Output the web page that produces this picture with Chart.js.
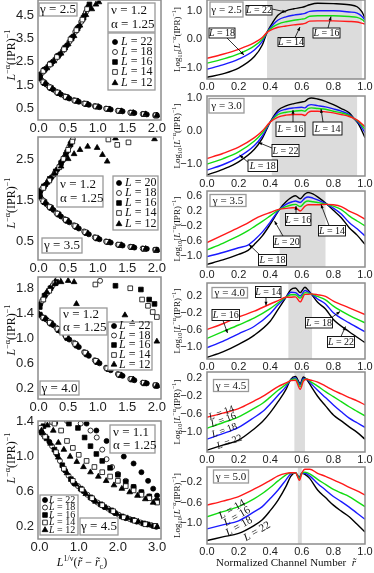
<!DOCTYPE html>
<html>
<head>
<meta charset="utf-8">
<script src="https://cdn.jsdelivr.net/npm/chart.js@4.4.1/dist/chart.umd.min.js"></script>
<style>
  html, body { margin: 0; padding: 0; background: #fff; overflow: hidden; width: 374px; height: 573px; }
  #fig { position: relative; width: 374px; height: 573px; }
  canvas { position: absolute; }
</style>
</head>
<body>
<div id="fig"></div>
<script>
// ---------- left column: scaled inverse IPR vs L^(1/nu)(r - rc), lower + upper branch ----------
const g25L22 = [[0.03,1.78],[0.13,1.52],[0.25,1.3],[0.38,1.09],[0.52,0.92],[0.68,0.78],[0.85,0.65],[1.03,0.55],[1.22,0.45],[1.42,0.37],[1.62,0.3],[1.83,0.24],[2.0,0.2],
  [0.03,1.95],[0.12,2.2],[0.24,2.5],[0.36,2.82],[0.48,3.2],[0.58,3.58],[0.68,4.0],[0.78,4.5],[0.84,4.85]];
const g25L18 = [[0.06,1.68],[0.17,1.44],[0.3,1.21],[0.44,1.02],[0.6,0.85],[0.77,0.71],[0.95,0.6],[1.14,0.49],[1.34,0.4],[1.55,0.32],[1.76,0.26],[1.97,0.2],
  [0.06,2.02],[0.16,2.3],[0.28,2.6],[0.41,2.97],[0.52,3.35],[0.62,3.78],[0.72,4.2],[0.8,4.62]];
const g25L16 = [[0.02,1.8],[0.1,1.58],[0.21,1.37],[0.34,1.15],[0.48,0.97],[0.64,0.82],[0.81,0.68],[0.99,0.57],[1.18,0.47],[1.38,0.38],[1.58,0.31],[1.79,0.25],[1.99,0.19],
  [0.02,1.92],[0.1,2.15],[0.21,2.42],[0.33,2.75],[0.45,3.1],[0.56,3.5],[0.66,3.92],[0.76,4.38],[0.86,4.95]];
const g25L14 = [[0.08,1.62],[0.19,1.4],[0.32,1.18],[0.46,0.99],[0.62,0.83],[0.79,0.7],[0.97,0.58],[1.16,0.48],[1.36,0.39],[1.57,0.31],[1.78,0.25],[1.98,0.2],
  [0.08,2.1],[0.19,2.38],[0.31,2.7],[0.43,3.03],[0.54,3.45],[0.64,3.85],[0.74,4.3],[0.82,4.75]];
const g25L12 = [[0.0,1.88],[0.11,1.56],[0.23,1.33],[0.36,1.12],[0.5,0.94],[0.66,0.8],[0.83,0.67],[1.01,0.56],[1.2,0.46],[1.4,0.38],[1.6,0.31],[1.81,0.25],[2.0,0.2],
  [0.0,1.9],[0.14,2.22],[0.26,2.52],[0.38,2.85],[0.5,3.25],[0.6,3.6],[0.7,4.05],[0.8,4.5],[0.9,4.75],[0.97,4.95],[1.02,5.05]];

const g35L20 = [[0.03,1.58],[0.13,1.41],[0.25,1.27],[0.38,1.11],[0.52,0.97],[0.68,0.82],[0.85,0.68],[1.03,0.56],[1.22,0.48],[1.42,0.41],[1.62,0.36],[1.83,0.33],[2.0,0.3],
  [0.03,1.72],[0.12,1.88],[0.22,2.06],[0.32,2.25],[0.4,2.45],[0.48,2.68],[0.55,2.9]];
const g35L18 = [[0.06,1.52],[0.17,1.36],[0.3,1.2],[0.44,1.05],[0.6,0.9],[0.77,0.75],[0.95,0.61],[1.14,0.51],[1.34,0.43],[1.55,0.38],[1.76,0.34],[1.97,0.31],
  [0.06,1.78],[0.16,1.95],[0.26,2.12],[0.36,2.33],[0.44,2.55],[0.52,2.8],[0.58,2.98]];
const g35L16 = [[0.02,1.6],[0.1,1.46],[0.21,1.32],[0.34,1.16],[0.48,1.01],[0.64,0.86],[0.81,0.71],[0.99,0.58],[1.18,0.49],[1.38,0.42],[1.58,0.37],[1.79,0.33],[1.99,0.3],
  [0.02,1.7],[0.09,1.84],[0.19,2.02],[0.29,2.2],[0.38,2.4],[0.46,2.6],[0.54,2.85]];
const g35L14 = [[0.08,1.48],[0.19,1.34],[0.32,1.18],[0.46,1.03],[0.62,0.88],[0.79,0.73],[0.97,0.6],[1.16,0.5],[1.36,0.43],[1.57,0.37],[1.78,0.33],[1.98,0.3],
  [0.08,1.8],[0.18,1.98],[0.28,2.15],[0.35,2.3],[0.42,2.5],[0.5,2.72],[0.57,2.92],[1.18,2.97],[1.33,2.84],[1.52,2.9]];
const g35L12 = [[0.0,1.62],[0.11,1.44],[0.23,1.3],[0.36,1.14],[0.5,0.99],[0.66,0.84],[0.83,0.7],[1.01,0.57],[1.2,0.49],[1.4,0.42],[1.6,0.36],[1.81,0.33],[2.0,0.3],
  [0.0,1.72],[0.14,1.93],[0.27,2.15],[0.38,2.32],[0.5,2.5],[0.6,2.62],[0.7,2.72],[0.83,2.8],[0.99,2.77],[1.08,2.6],[1.16,2.44],[1.3,3.0],[1.96,2.98]];

const g40L22 = [[0.03,1.37],[0.13,1.3],[0.25,1.21],[0.38,1.1],[0.52,0.98],[0.68,0.86],[0.85,0.72],[1.03,0.6],[1.22,0.49],[1.42,0.4],[1.62,0.33],[1.83,0.28],[2.0,0.24],
  [0.03,1.55],[0.12,1.7],[0.22,1.82],[0.31,1.93]];
const g40L18 = [[0.06,1.34],[0.17,1.27],[0.3,1.17],[0.44,1.06],[0.6,0.93],[0.77,0.78],[0.95,0.65],[1.14,0.53],[1.34,0.43],[1.55,0.35],[1.76,0.29],[1.97,0.25],
  [0.06,1.6],[0.15,1.73],[0.24,1.85],[0.33,1.95],[1.04,1.92]];
const g40L16 = [[0.02,1.38],[0.1,1.32],[0.21,1.24],[0.34,1.13],[0.48,1.01],[0.64,0.89],[0.81,0.75],[0.99,0.62],[1.18,0.51],[1.38,0.41],[1.58,0.34],[1.79,0.28],[1.99,0.24],
  [0.02,1.5],[0.1,1.68],[0.2,1.8],[0.3,1.9],[1.3,1.84],[1.73,1.78],[1.87,1.62],[1.96,1.55]];
const g40L14 = [[0.08,1.33],[0.19,1.25],[0.32,1.15],[0.46,1.04],[0.62,0.91],[0.79,0.77],[0.97,0.64],[1.16,0.52],[1.36,0.42],[1.57,0.35],[1.78,0.29],[1.98,0.25],
  [0.08,1.62],[0.18,1.76],[0.27,1.88],[0.96,1.86],[1.55,1.8],[1.75,1.62],[1.85,1.52],[1.93,1.42],[2.0,1.34]];
const g40L12 = [[0.0,1.4],[0.11,1.31],[0.23,1.22],[0.36,1.12],[0.5,0.99],[0.66,0.87],[0.83,0.73],[1.01,0.61],[1.2,0.5],[1.4,0.41],[1.6,0.34],[1.81,0.28],[2.0,0.24],
  [0.0,1.5],[0.14,1.74],[0.28,1.87],[0.38,1.9],[0.5,1.92],[0.6,1.9],[0.64,1.55],[1.46,1.37],[1.59,1.24],[1.73,1.1],[1.87,1.0],[2.0,0.95]];

const g45L22 = [[0.05,1.28],[0.25,1.17],[0.45,1.02],[0.65,0.84],[0.88,0.69],[1.12,0.6],[1.38,0.5],[1.65,0.42],[1.92,0.35],[2.2,0.29],[2.48,0.25],[2.75,0.22],[2.98,0.19],
  [1.2,1.38],[1.45,1.3],[1.71,1.18],[1.95,1.08],[2.15,1.0],[2.4,0.92],[2.6,0.82],[2.77,0.72],[2.9,0.63],[3.0,0.55]];
const g45L18 = [[0.1,1.25],[0.32,1.12],[0.52,0.95],[0.74,0.78],[0.98,0.66],[1.22,0.56],[1.48,0.47],[1.75,0.4],[2.02,0.33],[2.3,0.28],[2.58,0.24],[2.85,0.21],
  [0.3,1.4],[0.7,1.41],[1.05,1.38],[1.3,1.3],[1.46,1.22],[1.6,1.08],[1.71,0.97],[1.85,0.88],[2.0,0.8],[2.2,0.72],[2.4,0.65],[2.6,0.59],[2.8,0.54],[2.98,0.49]];
const g45L16 = [[0.02,1.3],[0.18,1.21],[0.38,1.08],[0.58,0.9],[0.8,0.74],[1.05,0.63],[1.3,0.53],[1.56,0.45],[1.83,0.38],[2.1,0.31],[2.38,0.27],[2.65,0.23],[2.92,0.2],
  [0.1,1.35],[0.4,1.4],[0.75,1.38],[0.98,1.33],[1.15,1.22],[1.3,1.12],[1.45,1.03],[1.6,0.95],[1.8,0.87],[2.0,0.79],[2.2,0.71],[2.4,0.65],[2.6,0.59],[2.8,0.54],[3.0,0.49]];
const g45L14 = [[0.14,1.23],[0.42,1.05],[0.62,0.86],[0.85,0.72],[1.08,0.62],[1.34,0.52],[1.6,0.44],[1.88,0.37],[2.15,0.3],[2.43,0.26],[2.7,0.22],[2.96,0.2],
  [0.03,1.33],[0.2,1.39],[0.38,1.38],[0.55,1.3],[0.7,1.18],[0.85,1.1],[1.0,1.02],[1.2,0.95],[1.4,0.88],[1.6,0.82],[1.8,0.77],[2.0,0.72],[2.2,0.66],[2.4,0.61],[2.6,0.56],[2.8,0.52],[3.0,0.47]];
const g45L12 = [[0.07,1.27],[0.28,1.15],[0.48,0.99],[0.7,0.81],[0.93,0.68],[1.18,0.57],[1.43,0.48],[1.7,0.41],[1.97,0.34],[2.25,0.29],[2.52,0.25],[2.8,0.21],[3.0,0.19],
  [0.05,1.3],[0.2,1.36],[0.35,1.3],[0.48,1.16],[0.62,1.08],[0.78,1.0],[0.95,0.94],[1.12,0.88],[1.3,0.82],[1.5,0.77],[1.7,0.72],[1.9,0.67],[2.1,0.63],[2.3,0.59],[2.5,0.55],[2.7,0.51],[2.9,0.47]];

// ---------- right column: log10 of scaled inverse IPR vs normalized channel ----------
const r25X   = [0,0.1,0.2,0.3,0.35,0.38,0.42,0.45,0.5,0.55,0.6,0.62,0.65,0.7,0.8,0.9,0.95,0.98,1.0];
const r25L14 = [-0.66,-0.52,-0.35,-0.12,0.06,0.24,0.36,0.42,0.46,0.5,0.53,0.55,0.63,0.64,0.64,0.62,0.6,0.56,0.53];
const r25L16 = [-0.83,-0.69,-0.51,-0.23,0.0,0.24,0.44,0.53,0.61,0.66,0.7,0.72,0.8,0.82,0.82,0.79,0.76,0.69,0.6];
const r25L18 = [-1.04,-0.89,-0.69,-0.37,-0.07,0.24,0.52,0.67,0.78,0.84,0.88,0.9,0.97,0.99,0.99,0.95,0.91,0.8,0.67];
const r25L22 = [-1.32,-1.2,-1.0,-0.6,-0.2,0.24,0.62,0.84,0.99,1.06,1.11,1.14,1.2,1.25,1.24,1.2,1.13,0.96,0.73];

const r30X   = [0,0.1,0.2,0.3,0.35,0.4,0.45,0.5,0.55,0.6,0.62,0.64,0.66,0.7,0.75,0.8,0.85,0.9,0.93,0.96,1.0];
const r30L14 = [-0.83,-0.68,-0.49,-0.2,0.0,0.27,0.42,0.48,0.5,0.5,0.47,0.56,0.6,0.6,0.58,0.55,0.5,0.44,0.38,0.3,0.13];
const r30L16 = [-1.0,-0.84,-0.63,-0.3,-0.06,0.27,0.5,0.57,0.6,0.62,0.6,0.68,0.7,0.68,0.66,0.6,0.55,0.47,0.38,0.28,0.05];
const r30L18 = [-1.18,-1.02,-0.79,-0.44,-0.15,0.27,0.57,0.66,0.7,0.72,0.7,0.78,0.8,0.77,0.73,0.67,0.6,0.5,0.38,0.25,-0.05];
const r30L22 = [-1.33,-1.16,-0.93,-0.55,-0.22,0.27,0.63,0.76,0.83,0.88,0.9,0.97,1.0,0.97,0.9,0.8,0.68,0.55,0.38,0.2,-0.2];

const r35X   = [0,0.1,0.2,0.26,0.3,0.35,0.4,0.46,0.5,0.54,0.56,0.59,0.62,0.64,0.67,0.7,0.76,0.8,0.85,0.9,0.95,1.0];
const r35L14 = [-0.65,-0.45,-0.25,-0.12,-0.02,0.08,0.16,0.25,0.27,0.29,0.29,0.2,0.33,0.37,0.37,0.37,0.38,0.37,0.32,0.2,0.1,-0.02];
const r35L16 = [-0.85,-0.67,-0.47,-0.33,-0.22,-0.08,0.07,0.25,0.32,0.37,0.38,0.32,0.44,0.47,0.45,0.43,0.38,0.33,0.24,0.07,-0.07,-0.2];
const r35L18 = [-1.03,-0.92,-0.79,-0.72,-0.58,-0.37,-0.1,0.25,0.38,0.45,0.47,0.43,0.55,0.58,0.55,0.5,0.38,0.28,0.12,-0.11,-0.28,-0.47];
const r35L20 = [-1.24,-1.12,-0.97,-0.86,-0.7,-0.47,-0.16,0.25,0.45,0.58,0.61,0.53,0.66,0.7,0.66,0.58,0.38,0.22,0.02,-0.25,-0.45,-0.7];

const r40X   = [0,0.1,0.2,0.3,0.4,0.45,0.5,0.53,0.56,0.59,0.62,0.64,0.66,0.7,0.75,0.8,0.9,1.0];
const r40L14 = [-0.59,-0.45,-0.29,-0.15,0.02,0.1,0.18,0.18,0.19,0.07,0.25,0.25,0.26,0.24,0.2,0.09,-0.07,-0.23];
const r40L16 = [-0.8,-0.64,-0.48,-0.31,-0.09,0.05,0.18,0.24,0.24,0.16,0.29,0.28,0.26,0.2,0.12,-0.03,-0.25,-0.43];
const r40L18 = [-1.02,-0.87,-0.69,-0.51,-0.21,0.0,0.18,0.3,0.29,0.21,0.34,0.31,0.26,0.14,0.02,-0.19,-0.43,-0.64];
const r40L22 = [-1.25,-1.12,-0.94,-0.72,-0.39,-0.11,0.18,0.36,0.4,0.29,0.42,0.35,0.26,0.06,-0.1,-0.35,-0.64,-0.9];

const r45X   = [0,0.1,0.2,0.3,0.35,0.4,0.45,0.5,0.53,0.56,0.59,0.61,0.63,0.66,0.7,0.75,0.8,0.85,0.9,0.95,1.0];
const r45L14 = [-0.67,-0.58,-0.48,-0.31,-0.22,-0.11,0.0,0.08,0.13,0.14,-0.06,0.12,0.16,0.14,0.1,0.01,-0.08,-0.16,-0.24,-0.31,-0.4];
const r45L16 = [-0.91,-0.79,-0.66,-0.47,-0.37,-0.23,-0.08,0.05,0.14,0.17,0.0,0.15,0.17,0.1,0.01,-0.11,-0.22,-0.33,-0.44,-0.54,-0.64];
const r45L18 = [-1.15,-1.03,-0.89,-0.67,-0.55,-0.38,-0.19,0.0,0.15,0.19,0.04,0.18,0.17,0.06,-0.08,-0.24,-0.4,-0.55,-0.69,-0.79,-0.89];
const r45L22 = [-1.39,-1.28,-1.17,-0.92,-0.77,-0.57,-0.33,-0.06,0.16,0.22,0.07,0.21,0.16,0.0,-0.21,-0.42,-0.62,-0.75,-0.88,-1.0,-1.15];

const r50X   = [0,0.1,0.2,0.3,0.35,0.4,0.45,0.5,0.53,0.56,0.585,0.6,0.62,0.65,0.7,0.75,0.8,0.85,0.9,0.95,1.0];
const r50L14 = [-0.65,-0.57,-0.48,-0.33,-0.25,-0.16,-0.07,-0.02,-0.01,-0.01,-0.16,-0.02,0.06,0.06,-0.02,-0.08,-0.15,-0.22,-0.3,-0.37,-0.45];
const r50L16 = [-0.88,-0.78,-0.68,-0.52,-0.42,-0.3,-0.17,-0.05,-0.01,-0.01,-0.13,-0.02,0.0,-0.03,-0.14,-0.24,-0.34,-0.41,-0.48,-0.58,-0.68];
const r50L18 = [-1.12,-1.04,-0.96,-0.78,-0.68,-0.52,-0.35,-0.15,-0.03,-0.01,-0.12,-0.02,-0.02,-0.07,-0.22,-0.35,-0.48,-0.58,-0.69,-0.81,-0.93];
const r50L22 = [-1.35,-1.28,-1.21,-1.05,-0.94,-0.76,-0.55,-0.28,-0.08,-0.01,-0.1,-0.02,-0.04,-0.12,-0.35,-0.5,-0.65,-0.77,-0.88,-1.03,-1.18];

// grey bands (critical region) per right panel, gamma = 2.5 .. 5.0
const shadeLo = [0.38, 0.41, 0.46, 0.515, 0.553, 0.575];
const shadeHi = [0.98, 0.95, 0.75, 0.665, 0.62, 0.6];

const LINE_COLORS = ["#ff1a1a", "#12dc12", "#1a1aff", "#000000"];
const SANS = '"Liberation Sans", Arial, sans-serif';
const SERIF = '"Liberation Serif", "Times New Roman", serif';

const MARKS = {
  22: { style: "circle", fill: "#000", r: 2.5 },
  20: { style: "circle", fill: "#000", r: 2.5 },
  18: { style: "circle", fill: "#fff", r: 2.5 },
  16: { style: "rect", fill: "#000", r: 3.3 },
  14: { style: "rect", fill: "#fff", r: 3.3 },
  12: { style: "triangle", fill: "#000", r: 3.3 },
};

function fmt(v) {
  return Number(v).toFixed(1).replace("-", "\u2212");
}
function pts(arr) {
  return arr.map(([x, y]) => ({ x, y }));
}
function pairs(xs, ys) {
  return xs.map((x, i) => ({ x, y: ys[i] }));
}

// ---------- panel layout (page pixels) ----------
const leftPanels = [
  {
    plot: [38, 0, 161, 120], xr: [-0.01, 2.07], yr: [0, 5.14],
    xt: [0, 0.5, 1, 1.5, 2], yt: [0.5, 1.5, 2.5, 3.5, 4.5], xh: 16,
    series: [[12, g25L12], [14, g25L14], [16, g25L16], [18, g25L18], [22, g25L22]],
    gamma: { box: [39, 3, 77, 16], text: "\u03b3 = 2.5" },
    nu: { box: [108, 3, 155, 32], x: 111, ys: [10.5, 24.5], lines: ["\u03bd = 1.2", "\u03b1 = 1.25"] },
    legend: { box: [108, 33, 155, 90], mx: 115, tx: 121, ys: [42, 52, 62, 72, 83], size: 12, Ls: [22, 18, 16, 14, 12] },
    ytitle: 55,
  },
  {
    plot: [38, 137, 161, 260], xr: [-0.01, 2.07], yr: [0.06, 3.03],
    xt: [0, 0.5, 1, 1.5, 2], yt: [0.5, 1.5, 2.5], xh: 16,
    series: [[12, g35L12], [14, g35L14], [16, g35L16], [18, g35L18], [20, g35L20]],
    gamma: { box: [42, 238, 82, 253], text: "\u03b3 = 3.5" },
    nu: { box: [57, 176, 103, 207], x: 60, ys: [184.5, 199], lines: ["\u03bd = 1.2", "\u03b1 = 1.25"] },
    legend: { box: [113, 176, 158, 230], mx: 119, tx: 125, ys: [183, 193, 203, 213, 224], size: 12, Ls: [20, 18, 16, 14, 12] },
    ytitle: 203,
  },
  {
    plot: [38, 277, 161, 399], xr: [-0.01, 2.07], yr: [0.03, 1.98],
    xt: [0, 0.5, 1, 1.5, 2], yt: [0.2, 0.6, 1.0, 1.4, 1.8], xh: 16,
    series: [[12, g40L12], [14, g40L14], [16, g40L16], [18, g40L18], [22, g40L22]],
    gamma: { box: [40, 381, 79, 395], text: "\u03b3 = 4.0" },
    nu: { box: [60, 308, 107, 335], x: 63, ys: [315, 328], lines: ["\u03bd = 1.2", "\u03b1 = 1.25"] },
    legend: { box: [108, 322, 152, 370], mx: 114, tx: 119, ys: [326, 335.5, 345, 355, 364.5], size: 12, Ls: [22, 18, 16, 14, 12] },
    ytitle: 330,
  },
  {
    plot: [38, 421, 161, 539], xr: [-0.04, 3.1], yr: [0.05, 1.41],
    xt: [0, 1, 2, 3], yt: [0.2, 0.6, 1.0, 1.4], xh: 34,
    series: [[12, g45L12], [14, g45L14], [16, g45L16], [18, g45L18], [22, g45L22]],
    gamma: { box: [80, 518, 118, 535], text: "\u03b3 = 4.5" },
    nu: { box: [110, 425, 155, 453], x: 113, ys: [433, 446], lines: ["\u03bd = 1.1", "\u03b1 = 1.25"] },
    legend: { box: [40, 495, 78, 535], mx: 45, tx: 49, ys: [500, 507.5, 515, 522.5, 530], size: 10, Ls: [22, 18, 16, 14, 12] },
    ytitle: 458,
    xtitle: [82, 563],
  },
];

const rightPanels = [
  {
    plot: [207, 0, 365, 79], yr: [-1.38, 1.365], yt: [-1, 0, 1], xh: 16,
    x: r25X, lines: [r25L14, r25L16, r25L18, r25L22], shade: 0,
    gamma: { box: [210, 2, 243, 17], text: "\u03b3 = 2.5" },
    tags: [
      { t: "22", box: [246, 5.5, 272, 15], from: [272, 9], to: [286, 12] },
      { t: "18", box: [209, 28, 235, 38], from: [227, 38], to: [244, 55] },
      { t: "14", box: [278, 37.5, 304, 46.5], from: [295, 37.5], to: [300, 27] },
      { t: "16", box: [313, 28, 340, 38], from: [328, 28], to: [331, 16.5] },
    ],
  },
  {
    plot: [207, 96, 365, 176], yr: [-1.36, 1.06], yt: [-1, 0, 1], xh: 16,
    x: r30X, lines: [r30L14, r30L16, r30L18, r30L22], shade: 1,
    gamma: { box: [209, 98.5, 244, 113], text: "\u03b3 = 3.0" },
    tags: [
      { t: "16", box: [276, 122, 305, 136.5], from: [293, 122], to: [293, 110] },
      { t: "14", box: [313, 122, 342, 135], from: [323, 122], to: [321, 109] },
      { t: "22", box: [272, 144.5, 299, 156.5], from: [272, 148], to: [258.5, 142.5] },
      { t: "18", box: [248, 160, 277.5, 171.5], from: [249, 163], to: [239.5, 155] },
    ],
  },
  {
    plot: [207, 191, 365, 267], yr: [-1.31, 0.74], yt: [-1, -0.6, -0.2, 0.2, 0.6], xh: 16,
    x: r35X, lines: [r35L14, r35L16, r35L18, r35L20], shade: 2,
    gamma: { box: [210, 194.5, 246, 206.5], text: "\u03b3 = 3.5" },
    tags: [
      { t: "16", box: [285.5, 213.5, 311, 225.5], from: [296, 213.5], to: [296, 206] },
      { t: "14", box: [318.5, 225.5, 345.5, 236], from: [329, 225.5], to: [321, 204.5] },
      { t: "20", box: [273.5, 236, 300, 247.5], from: [283, 236], to: [274.5, 221] },
      { t: "18", box: [258.5, 254.5, 286.5, 265.5], from: [261, 256], to: [249, 244.5] },
    ],
  },
  {
    plot: [207, 283, 365, 359], yr: [-1.29, 0.52], yt: [-1, -0.6, -0.2, 0.2], xh: 16,
    x: r40X, lines: [r40L14, r40L16, r40L18, r40L22], shade: 3,
    gamma: { box: [212, 287.5, 247.5, 298], text: "\u03b3 = 4.0" },
    tags: [
      { t: "14", box: [255.5, 286.5, 281, 297.5], from: [266, 297.5], to: [266, 305.5] },
      { t: "16", box: [212, 309.5, 239.5, 320.5], from: [223, 320.5], to: [227.5, 333] },
      { t: "18", box: [305.5, 317.5, 332.5, 328], from: [329, 319.5], to: [340, 311.5] },
      { t: "22", box: [327.5, 336.5, 354.5, 347.5], from: [341, 336.5], to: [345.5, 326.5] },
    ],
  },
  {
    plot: [207, 372, 365, 452], yr: [-1.43, 0.32], yt: [-1, -0.6, -0.2, 0.2], xh: 16,
    x: r45X, lines: [r45L14, r45L16, r45L18, r45L22], shade: 4,
    gamma: { box: [213.5, 379.5, 248.5, 391.5], text: "\u03b3 = 4.5" },
    rlabels: [
      { t: "14", at: [221.5, 413], a: -20, size: 10 },
      { t: "16", at: [223.5, 420], a: -20, size: 10 },
      { t: "18", at: [224.5, 430.5], a: -20, size: 10 },
      { t: "22", at: [229.5, 442], a: -20, size: 10 },
    ],
  },
  {
    plot: [207, 467, 365, 544], yr: [-1.42, 0.105], yt: [-1, -0.6, -0.2], xh: 29,
    x: r50X, lines: [r50L14, r50L16, r50L18, r50L22], shade: 5,
    gamma: { box: [213.5, 470, 248.5, 483], text: "\u03b3 = 5.0" },
    rlabels: [
      { t: "14", at: [232, 509.5], a: -30, size: 11 },
      { t: "16", at: [237, 516.5], a: -30, size: 11 },
      { t: "18", at: [239, 526.5], a: -30, size: 11 },
      { t: "22", at: [257, 531.5], a: -30, size: 11 },
    ],
    xtitle: [286, 563],
  },
];

// ---------- small drawing helpers (page coordinates) ----------
function drawRich(ctx, parts, x, y, size, rot, align) {
  ctx.save();
  ctx.translate(x, y);
  ctx.rotate(rot || 0);
  let w = 0;
  const items = parts.map((p) => {
    const s = p.sup || p.sub ? size * 0.68 : size;
    const f = `${p.it ? "italic " : ""}${s}px ${SERIF}`;
    ctx.font = f;
    const pw = ctx.measureText(p.t).width;
    w += pw;
    return { p, f, pw };
  });
  let cx = align === "left" ? 0 : -w / 2;
  ctx.textAlign = "left";
  ctx.textBaseline = "middle";
  ctx.fillStyle = "#111";
  items.forEach((it) => {
    ctx.font = it.f;
    const dy = it.p.sup ? -size * 0.38 : it.p.sub ? size * 0.28 : 0;
    ctx.fillText(it.p.t, cx, dy);
    cx += it.pw;
  });
  ctx.restore();
}

function drawBox(ctx, b, color, lw) {
  ctx.fillStyle = "#fff";
  ctx.fillRect(b[0], b[1], b[2] - b[0], b[3] - b[1]);
  ctx.strokeStyle = color;
  ctx.lineWidth = lw;
  ctx.strokeRect(b[0], b[1], b[2] - b[0], b[3] - b[1]);
}

function drawArrow(ctx, from, to) {
  const ang = Math.atan2(to[1] - from[1], to[0] - from[0]);
  ctx.strokeStyle = "#000";
  ctx.fillStyle = "#000";
  ctx.lineWidth = 0.8;
  ctx.beginPath();
  ctx.moveTo(from[0], from[1]);
  ctx.lineTo(to[0], to[1]);
  ctx.stroke();
  ctx.beginPath();
  ctx.moveTo(to[0], to[1]);
  ctx.lineTo(to[0] - 4 * Math.cos(ang - 0.4), to[1] - 4 * Math.sin(ang - 0.4));
  ctx.lineTo(to[0] - 4 * Math.cos(ang + 0.4), to[1] - 4 * Math.sin(ang + 0.4));
  ctx.closePath();
  ctx.fill();
}

function drawMark(ctx, m, x, y) {
  ctx.fillStyle = m.fill;
  ctx.strokeStyle = "#000";
  ctx.lineWidth = 0.8;
  ctx.beginPath();
  if (m.style === "circle") {
    ctx.arc(x, y, m.r, 0, Math.PI * 2);
  } else if (m.style === "rect") {
    const s = m.r * Math.SQRT1_2;
    ctx.rect(x - s, y - s, 2 * s, 2 * s);
  } else {
    ctx.moveTo(x, y - m.r);
    ctx.lineTo(x + m.r * 0.866, y + m.r * 0.5);
    ctx.lineTo(x - m.r * 0.866, y + m.r * 0.5);
    ctx.closePath();
  }
  ctx.fill();
  ctx.stroke();
}

const LEFT_YTITLE = [{ t: "L", it: true }, { t: "\u2212\u03b1", sup: true }, { t: "(IPR)" }, { t: "\u22121", sup: true }];
const RIGHT_YTITLE = [{ t: "Log" }, { t: "10", sub: true }, { t: "[" }, { t: "L", it: true }, { t: "\u2212\u03b1", sup: true }, { t: "(IPR)" }, { t: "\u22121", sup: true }, { t: "]" }];
const LEFT_XTITLE = [{ t: "L", it: true }, { t: "1/\u03bd", sup: true }, { t: "(" }, { t: "r\u0303", it: true }, { t: " \u2212 " }, { t: "r\u0303", it: true }, { t: "c", sub: true }, { t: ")" }];
const RIGHT_XTITLE = [{ t: "Normalized Channel Number  " }, { t: "r\u0303", it: true }];

function decor(p, side) {
  return {
    id: "decor",
    beforeDatasetsDraw(chart) {
      if (p.shade === undefined) return;
      const { ctx, chartArea: a, scales } = chart;
      const x0 = scales.x.getPixelForValue(shadeLo[p.shade]);
      const x1 = scales.x.getPixelForValue(shadeHi[p.shade]);
      ctx.save();
      ctx.fillStyle = "#dcdcdc";
      ctx.fillRect(x0, a.top, x1 - x0, a.bottom - a.top);
      ctx.restore();
    },
    afterDatasetsDraw(chart) {
      const { ctx, chartArea: a } = chart;
      ctx.save();
      ctx.strokeStyle = "#8c8c8c";
      ctx.lineWidth = 1.5;
      ctx.strokeRect(a.left, a.top, a.right - a.left, a.bottom - a.top);
      ctx.translate(-p.off[0], -p.off[1]);

      const mid = (p.plot[1] + p.plot[3]) / 2;
      if (side === "left") {
        drawBox(ctx, p.gamma.box, "#999", 1.3);
        drawRich(ctx, [{ t: p.gamma.text }], (p.gamma.box[0] + p.gamma.box[2]) / 2, (p.gamma.box[1] + p.gamma.box[3]) / 2 + 0.5, 13);
        drawBox(ctx, p.nu.box, "#999", 1.3);
        p.nu.lines.forEach((s, i) => drawRich(ctx, [{ t: s }], p.nu.x, p.nu.ys[i], 13, 0, "left"));
        const lg = p.legend;
        drawBox(ctx, lg.box, "#999", 1.3);
        lg.Ls.forEach((L, i) => {
          drawMark(ctx, MARKS[L], lg.mx, lg.ys[i]);
          drawRich(ctx, [{ t: "L", it: true }, { t: " = " + L }], lg.tx, lg.ys[i], lg.size, 0, "left");
        });
        drawRich(ctx, LEFT_YTITLE, 12, p.ytitle, 12, -Math.PI / 2);
        if (p.xtitle) drawRich(ctx, LEFT_XTITLE, p.xtitle[0], p.xtitle[1], 12);
      } else {
        drawBox(ctx, p.gamma.box, "#999", 1.3);
        drawRich(ctx, [{ t: p.gamma.text }], (p.gamma.box[0] + p.gamma.box[2]) / 2, (p.gamma.box[1] + p.gamma.box[3]) / 2 + 0.5, 11);
        (p.tags || []).forEach((tg) => {
          drawArrow(ctx, tg.from, tg.to);
          drawBox(ctx, tg.box, "#000", 0.9);
          drawRich(ctx, [{ t: "L", it: true }, { t: " = " + tg.t }], (tg.box[0] + tg.box[2]) / 2, (tg.box[1] + tg.box[3]) / 2 + 0.5, 10);
        });
        (p.rlabels || []).forEach((rl) => {
          drawRich(ctx, [{ t: "L", it: true }, { t: " = " + rl.t }], rl.at[0], rl.at[1], rl.size, (rl.a * Math.PI) / 180);
        });
        drawRich(ctx, RIGHT_YTITLE, 178, mid, 9, -Math.PI / 2);
        if (p.xtitle) drawRich(ctx, RIGHT_XTITLE, p.xtitle[0], p.xtitle[1], 11);
      }
      ctx.restore();
    },
  };
}

function axis(which, range, ticks, fs, size, pad) {
  return {
    type: "linear",
    position: which === "x" ? "bottom" : "left",
    min: range[0],
    max: range[1],
    afterBuildTicks: (s) => {
      s.ticks = ticks.map((v) => ({ value: v }));
    },
    afterFit: (s) => {
      if (which === "x") s.height = size;
      else s.width = size;
    },
    grid: { display: false, drawTicks: false },
    border: { display: false },
    ticks: {
      autoSkip: false,
      maxRotation: 0,
      minRotation: 0,
      padding: pad,
      color: "#222",
      font: { family: SANS, size: fs },
      callback: (v) => fmt(v),
    },
  };
}

function buildPanel(p, side, datasets) {
  const yw = side === "left" ? 38 : 35;
  const pt = 14;
  const pr = 14;
  const [l, t, r, b] = p.plot;
  const w = r - l + yw + pr;
  const h = b - t + pt + p.xh;
  p.off = [l - yw, t - pt];

  const cv = document.createElement("canvas");
  cv.width = w;
  cv.height = h;
  cv.style.left = p.off[0] + "px";
  cv.style.top = p.off[1] + "px";
  cv.style.width = w + "px";
  cv.style.height = h + "px";
  document.getElementById("fig").appendChild(cv);

  const fs = side === "left" ? 13 : 11;
  new Chart(cv.getContext("2d"), {
    type: "scatter",
    data: { datasets },
    options: {
      responsive: false,
      animation: false,
      devicePixelRatio: 1,
      layout: { padding: { left: 0, top: pt, right: pr, bottom: 0 } },
      plugins: { legend: { display: false }, tooltip: { enabled: false } },
      scales: {
        x: axis("x", p.xr || [0, 1], p.xt || [0, 0.2, 0.4, 0.6, 0.8, 1.0], fs, p.xh, 1),
        y: axis("y", p.yr, p.yt, fs, yw, side === "left" ? 4 : 5),
      },
    },
    plugins: [decor(p, side)],
  });
}

document.addEventListener("DOMContentLoaded", () => {
  leftPanels.forEach((p) => {
    const ds = p.series.map(([L, arr]) => {
      const m = MARKS[L];
      return {
        label: "L = " + L,
        data: pts(arr),
        showLine: false,
        pointStyle: m.style,
        pointRadius: m.r,
        pointBackgroundColor: m.fill,
        pointBorderColor: "#000",
        pointBorderWidth: 0.8,
      };
    });
    buildPanel(p, "left", ds);
  });

  rightPanels.forEach((p) => {
    const ds = p.lines.map((ys, i) => ({
      data: pairs(p.x, ys),
      showLine: true,
      fill: false,
      pointRadius: 0,
      borderColor: LINE_COLORS[i],
      borderWidth: 1.4,
      cubicInterpolationMode: "monotone",
    }));
    buildPanel(p, "right", ds);
  });
});
</script>
</body>
</html>
